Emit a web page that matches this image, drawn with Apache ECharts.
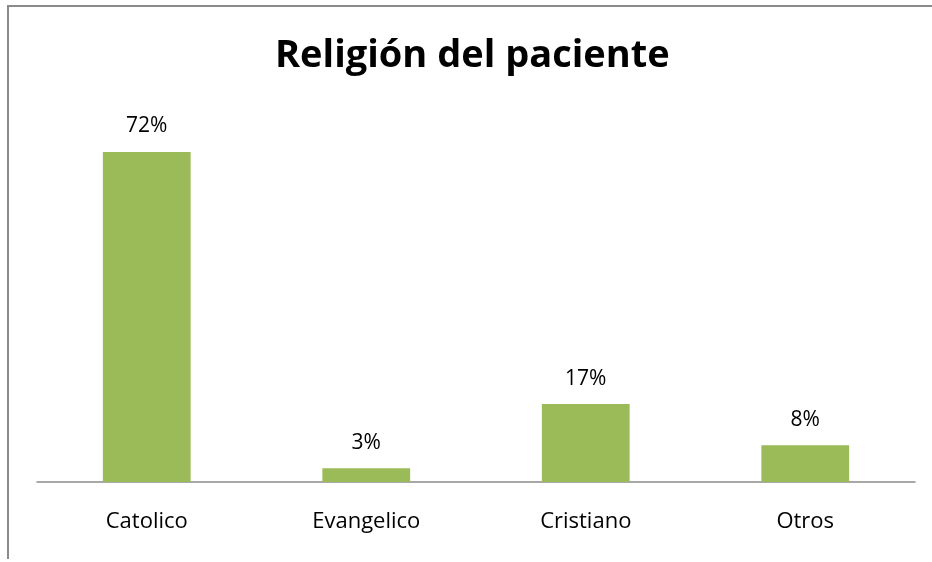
<!DOCTYPE html>
<html>
<head>
<meta charset="utf-8">
<script src="https://cdn.jsdelivr.net/npm/echarts@6/dist/echarts.min.js"></script>
<style>
html,body{margin:0;padding:0;background:#fff;}
#frame{position:absolute;left:7px;top:5px;width:925px;height:554px;border-left:2px solid #8a8a8a;border-top:2px solid #8a8a8a;box-sizing:border-box;pointer-events:none;z-index:2;}
#chart{position:absolute;left:0;top:0;width:932px;height:562px;}
</style>
</head>
<body>
<div id="chart"></div>
<div id="frame"></div>
<script>
const titleText = 'Religión del paciente';
const categories = ['Catolico', 'Evangelico', 'Cristiano', 'Otros'];
const values = [72, 3, 17, 8];

const chart = echarts.init(document.getElementById('chart'), null, {renderer: 'canvas'});
chart.setOption({
  backgroundColor: '#ffffff',
  animation: false,
  title: {
    text: titleText,
    left: 270,
    top: 32,
    textStyle: {fontFamily: 'Open Sans', fontWeight: 'bold', fontSize: 38, color: '#000'}
  },
  grid: {left: 37, right: 17, top: 115.33, bottom: 80, containLabel: false},
  xAxis: {
    type: 'category',
    data: categories,
    axisLine: {lineStyle: {color: '#8c8c8c', width: 1.5}},
    axisTick: {show: false},
    axisLabel: {fontFamily: 'Open Sans', fontSize: 22, color: '#000', margin: 29}
  },
  yAxis: {
    type: 'value',
    min: 0,
    max: 80,
    show: false,
    splitLine: {show: false}
  },
  series: [{
    type: 'bar',
    data: values,
    barWidth: '40%',
    itemStyle: {color: '#9bbb59'},
    label: {
      show: true,
      position: 'top',
      distance: 15,
      formatter: p => p.value + '%',
      fontFamily: 'Open Sans',
      fontSize: 21,
      color: '#000'
    }
  }]
});
</script>
</body>
</html>
